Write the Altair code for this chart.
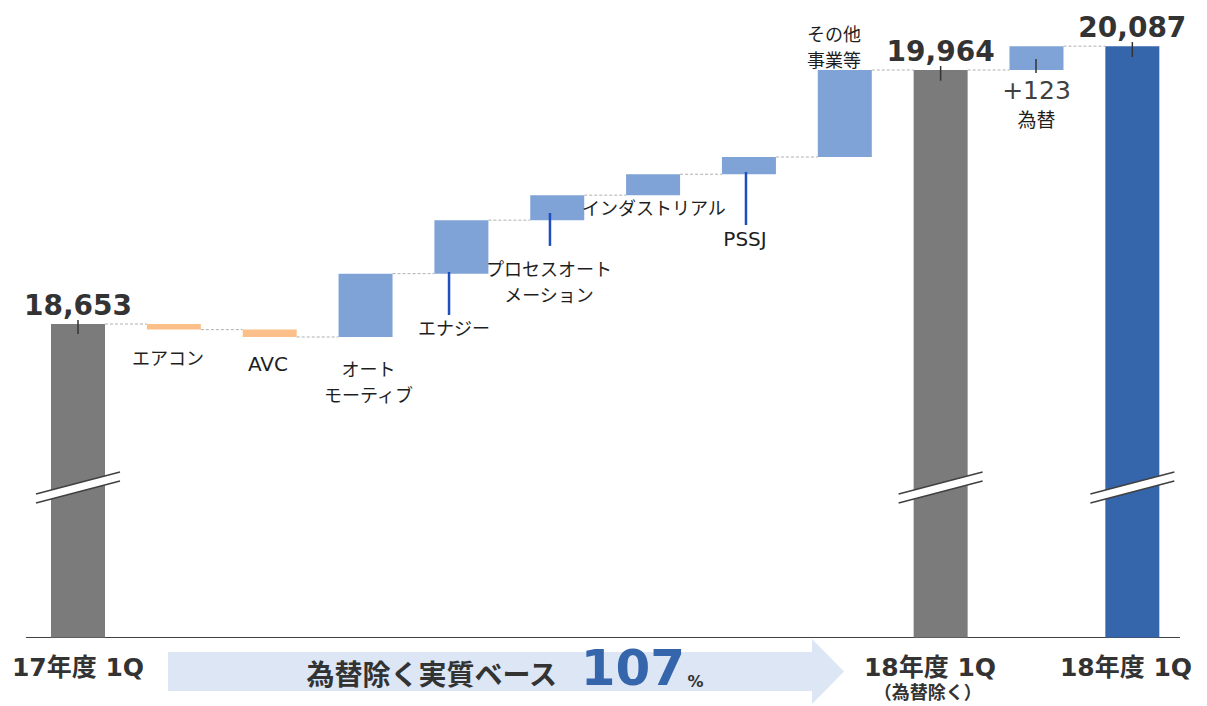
import altair as alt
import pandas as pd

# ---------------- data ----------------
categories = ["17年度 1Q", "エアコン", "AVC", "オートモーティブ", "エナジー",
              "プロセスオートメーション", "インダストリアル", "PSSJ", "その他事業等",
              "18年度 1Q（為替除く）", "為替", "18年度 1Q"]
kinds = ["start", "step", "step", "step", "step", "step", "step", "step", "step",
         "subtotal", "step", "total"]
deltas = [18653, -29, -38, 327, 276, 129, 108, 89, 449, 0, 123, 0]

step_labels = ["", "エアコン", "AVC", "オート\nモーティブ", "エナジー",
               "プロセスオート\nメーション", "インダストリアル", "PSSJ", "その他\n事業等",
               "", "為替", ""]
axis_labels = ["17年度 1Q", "18年度 1Q", "18年度 1Q"]
axis_sub = "（為替除く）"
headline = "為替除く実質ベース"
ratio_text = "107"
ratio_unit = "%"

# ---------------- layout (scales) ----------------
W, H = 1207, 706
X_DOM = [-0.8138, 11.779]
Y_DOM = [16681.4, 20325.3]
BASE = 17035          # floor of the broken axis
BAR_PX = 54
PX_PER_IDX = W / (X_DOM[1] - X_DOM[0])
HW = BAR_PX / 2 / PX_PER_IDX

GRAY, LBLUE, ORANGE, DBLUE = "#7B7B7B", "#7FA3D6", "#FBC08A", "#3566AC"
TXT = "#333333"
FONT = "DejaVu Sans, Noto Sans CJK JP"

rows = []
running = 0
for i, (c, k, d) in enumerate(zip(categories, kinds, deltas)):
    if k == "start":
        y0, y1 = BASE, d
        running = d
        col = GRAY
    elif k in ("subtotal", "total"):
        y0, y1 = BASE, running
        col = GRAY if k == "subtotal" else DBLUE
    else:
        y0, y1 = running, running + d
        running = y1
        col = LBLUE if d > 0 else ORANGE
    rows.append(dict(x=i, cat=c, y=y0, y2=y1, color=col, kind=k, delta=d))
bars = pd.DataFrame(rows)

xs = alt.Scale(domain=X_DOM, nice=False, zero=False, padding=0)
ys = alt.Scale(domain=Y_DOM, nice=False, zero=False, padding=0)
X = lambda f="x": alt.X(f"{f}:Q", scale=xs, axis=None)
Y = lambda f="y": alt.Y(f"{f}:Q", scale=ys, axis=None)

bar_layer = alt.Chart(bars).mark_bar(width=BAR_PX).encode(
    x=X(), y=Y(), y2="y2:Q", color=alt.Color("color:N", scale=None))

# dashed connectors
conn = pd.DataFrame([dict(x=i + HW, x2=i + 1 - HW, y=bars.y2[i]) for i in range(len(bars) - 1)])
conn_layer = alt.Chart(conn).mark_rule(color="#B0B0B0", strokeWidth=1, strokeDash=[3, 2]).encode(
    x=X(), x2="x2:Q", y=Y())

# baseline
base_df = pd.DataFrame([dict(x=-0.542, x2=11.497, y=BASE)])
base_layer = alt.Chart(base_df).mark_rule(color="#404040", strokeWidth=1).encode(
    x=X(), x2="x2:Q", y=Y())

# axis-break marks on the total bars
brk_rows, fill_rows = [], []
for i in bars.index[bars.kind != "step"]:
    for side, (ya_l, ya_r) in (("a", (17775.6, 17889.1)), ("b", (17729.1, 17842.6))):
        brk_rows.append(dict(g=f"{i}{side}", x=i - 0.438, y=ya_l))
        brk_rows.append(dict(g=f"{i}{side}", x=i + 0.438, y=ya_r))
    fill_rows.append(dict(g=str(i), x=i - 0.438, y=17775.6, y2=17729.1))
    fill_rows.append(dict(g=str(i), x=i + 0.438, y=17889.1, y2=17842.6))
fill_layer = alt.Chart(pd.DataFrame(fill_rows)).mark_area(color="white", orient="vertical").encode(
    x=X(), y=Y(), y2="y2:Q", detail="g:N")
brk_layer = alt.Chart(pd.DataFrame(brk_rows)).mark_line(color="#404040", strokeWidth=1.5).encode(
    x=X(), y=Y(), detail="g:N")

# value labels on totals
tot = bars[bars.kind != "step"].copy()
tot["label"] = tot.y2.map(lambda v: f"{v:,.0f}")
val_layer = alt.Chart(tot).mark_text(font=FONT, fontWeight="bold", fontSize=28, color=TXT,
                                     baseline="alphabetic", dy=-9).encode(
    x=X(), y=Y("y2"), text="label:N")

# small black ticks
ticks = pd.DataFrame([
    dict(x=0, y=18673.7, y2=18601.4),
    dict(x=9, y=19984.7, y2=19908.8),
    dict(x=11, y=20108.5, y2=20031.1),
    dict(x=9.995, y=20020.8, y2=19948.5),
])
tick_layer = alt.Chart(ticks).mark_rule(color="#333333", strokeWidth=1.5).encode(
    x=X(), y=Y(), y2="y2:Q")

# blue leader lines
leaders = pd.DataFrame([
    dict(x=3.871, y=18921.4, y2=18699.5),
    dict(x=4.924, y=19226.0, y2=19056.0),
    dict(x=6.969, y=19437.6, y2=19164.0),
])
lead_layer = alt.Chart(leaders).mark_rule(color="#1F4FBF", strokeWidth=2.5).encode(
    x=X(), y=Y(), y2="y2:Q")

# step labels
lab_pos = {1: (0.939, 18467, 18), 2: (1.982, 18441, 20), 3: (3.03, 18408, 18),
           4: (3.923, 18619.5, 18), 5: (4.914, 18924, 18), 6: (6.009, 19241.4, 18),
           7: (6.959, 19084, 20), 8: (7.887, 20139.5, 18), 10: (10.0, 19698.2, 19)}
labs = pd.DataFrame([dict(x=p[0], y=p[1], fs=p[2], t=step_labels[i]) for i, p in lab_pos.items()])
lab_layer = alt.Chart(labs).mark_text(font=FONT, color="#1E1E1E", lineBreak="\n", lineHeight=26,
                                      baseline="middle").encode(
    x=X(), y=Y(), text="t:N", size=alt.Size("fs:Q", scale=None))

fx = bars[bars.kind == "step"].iloc[-1]
fx_df = pd.DataFrame([dict(x=10.0, y=19855.6, t=f"+{fx.delta}")])
fx_layer = alt.Chart(fx_df).mark_text(font=FONT, fontSize=25, color="#404040", baseline="middle").encode(
    x=X(), y=Y(), text="t:N")

# bottom arrow
arrow_body = pd.DataFrame([dict(x=0.939, x2=7.658, y=16960.1, y2=16758.8)])
arrow_head = pd.DataFrame([dict(x=7.658, y=17027.2, y2=16691.7), dict(x=7.992, y=16859.5, y2=16859.5)])
AR = "#DCE6F5"
body_layer = alt.Chart(arrow_body).mark_rect(color=AR).encode(x=X(), x2="x2:Q", y=Y(), y2="y2:Q")
head_layer = alt.Chart(arrow_head).mark_area(color=AR, orient="vertical").encode(x=X(), y=Y(), y2="y2:Q")

bottom = pd.DataFrame([
    dict(x=0.0, y=16880.1, t=axis_labels[0], fs=25, c=TXT),
    dict(x=8.889, y=16877.5, t=axis_labels[1], fs=25, c=TXT),
    dict(x=10.934, y=16877.5, t=axis_labels[2], fs=25, c=TXT),
    dict(x=8.865, y=16740.8, t=axis_sub, fs=18, c=TXT),
    dict(x=3.69, y=16828.5, t=headline, fs=28, c=TXT),
    dict(x=5.79, y=16867.2, t=ratio_text, fs=50, c=DBLUE),
    dict(x=6.442, y=16802.7, t=ratio_unit, fs=16, c=TXT),
])
bottom_layer = alt.Chart(bottom).mark_text(font=FONT, fontWeight="bold", baseline="middle").encode(
    x=X(), y=Y(), text="t:N", size=alt.Size("fs:Q", scale=None), color=alt.Color("c:N", scale=None))

chart = alt.layer(
    base_layer, conn_layer, bar_layer, fill_layer, brk_layer, tick_layer, lead_layer,
    val_layer, lab_layer, fx_layer, body_layer, head_layer, bottom_layer
).properties(
    width=W, height=H, padding=0, autosize=alt.AutoSizeParams(type="none"), background="white"
).configure_view(stroke=None)

chart.save("out.html", embed_options={"renderer": "svg", "actions": False})
